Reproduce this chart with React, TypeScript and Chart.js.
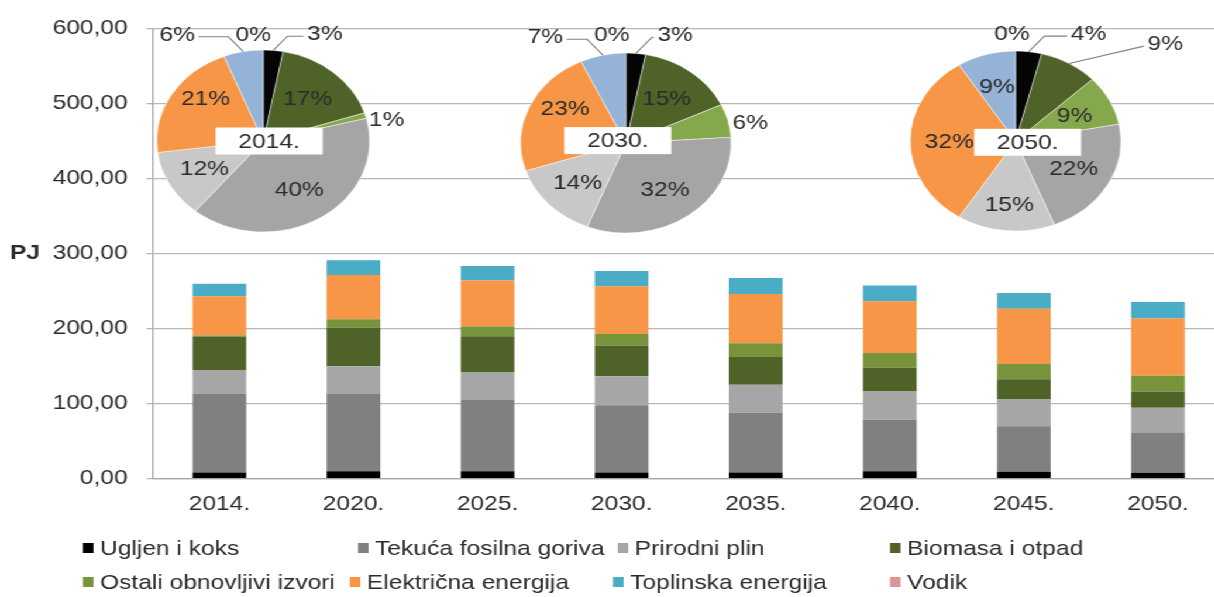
import React, { useEffect, useRef } from 'react';
import { Chart, registerables } from 'chart.js';

Chart.register(...registerables);

// ---------- data ----------
const categories = ['2014.', '2020.', '2025.', '2030.', '2035.', '2040.', '2045.', '2050.'];

const seriesNames = [
  'Ugljen i koks',
  'Tekuća fosilna goriva',
  'Prirodni plin',
  'Biomasa i otpad',
  'Ostali obnovljivi izvori',
  'Električna energija',
  'Toplinska energija',
  'Vodik',
];

const ugljenIKoks = [8.4, 10, 10, 8.4, 8.4, 10, 9.2, 7.9];
const tekucaFosilnaGoriva = [104.5, 102.9, 95.5, 89.6, 79.6, 68.7, 60.8, 53];
const prirodniPlin = [32, 37.1, 36.2, 38.5, 37.2, 37.7, 35.5, 33.6];
const biomasaIOtpad = [44.5, 51.7, 48.3, 41.2, 37.1, 31.6, 27, 21.9];
const ostaliObnovljivi = [1.5, 10.9, 13, 15.3, 18.4, 19.6, 20.3, 21];
const elektricnaEnergija = [52.3, 59.1, 61.3, 63.4, 65.6, 69.1, 73.8, 76.1];
const toplinskaEnergija = [16.6, 19.6, 19.2, 20.6, 21.4, 21, 21, 21.9];
const vodik = [0, 0, 0, 0, 0, 0, 0, 0];

const yTickValues = [0, 100, 200, 300, 400, 500, 600];
const yAxisTitle = 'PJ';

// pies (clockwise from 12 o'clock)
const pieTitles = ['2014.', '2030.', '2050.'];
const pieSliceNames = [
  'Ugljen i koks',
  'Biomasa i otpad',
  'Ostali obnovljivi izvori',
  'Tekuća fosilna goriva',
  'Prirodni plin',
  'Električna energija',
  'Toplinska energija',
  'Vodik',
];
const pieShares2014 = [3, 17, 1, 40, 12, 21, 6, 0];
const pieShares2030 = [3, 15, 6, 32, 14, 23, 7, 0];
const pieShares2050 = [4, 9, 9, 22, 15, 32, 9, 0];
const pieShares = [pieShares2014, pieShares2030, pieShares2050];

// ---------- styles / layout ----------
const SX = 1.17; // horizontal stretch of the whole picture
const CW = 1050;
const CH = 597;
const FONT = '"Liberation Sans", Arial, Helvetica, sans-serif';
const TEXT = '#2b2b2b';

const barColors = ['#000000', '#808080', '#a6a6a6', '#4f6228', '#77933c', '#f79646', '#4bacc6', '#d99694'];
const pieColors = ['#050505', '#4f6228', '#86a84c', '#a5a5a5', '#c8c8c8', '#f79646', '#95b3d7', '#d99694'];

const legendSlots = [
  { x: 70.9, y: 548 },
  { x: 306, y: 548 },
  { x: 528, y: 548 },
  { x: 760.7, y: 548 },
  { x: 70.9, y: 582 },
  { x: 299, y: 582 },
  { x: 524, y: 582 },
  { x: 760.7, y: 582 },
];

const PW = 340;
const PH = 270;

type LabelCfg = { out?: [number, number]; leader?: 'elbow' | 'straight'; nudge?: [number, number]; frac?: number };
type PieLayout = { cx: number; cy: number; r: number; box: [number, number]; labels: LabelCfg[] };

const pieLayouts: PieLayout[] = [
  {
    cx: 225.0, cy: 140.5, r: 91, box: [5, 0],
    labels: [
      { out: [52.7, -107.8], leader: 'elbow' },
      {},
      { out: [105.5, -22.2] },
      {},
      {},
      { nudge: [0, -14] },
      { out: [-73.5, -107.2], leader: 'elbow' },
      { out: [-8.5, -107.2] },
    ],
  },
  {
    cx: 534.8, cy: 142.7, r: 90, box: [-7, -2.4],
    labels: [
      { out: [42.1, -108.7], leader: 'elbow' },
      {},
      { out: [106.2, -21] },
      {},
      {},
      { nudge: [0, -12] },
      { out: [-68.9, -106.7], leader: 'elbow' },
      { out: [-12, -108.7] },
    ],
  },
  {
    cx: 867.8, cy: 141.2, r: 90, box: [10.4, 1.3],
    labels: [
      { out: [62.4, -107.9], leader: 'elbow' },
      { out: [127.9, -97.9], leader: 'straight' },
      {},
      {},
      { nudge: [0, 7] },
      {},
      {},
      { out: [-3.1, -107.9] },
    ],
  },
];

const fmtTick = (v: number) => v.toFixed(2).replace('.', ',');

const extrasPlugin = {
  id: 'extras',
  afterDraw(chart: any) {
    const ctx = chart.ctx;
    ctx.save();
    const y = chart.scales.y.getPixelForValue(300);
    ctx.font = `bold 21px ${FONT}`;
    ctx.fillStyle = TEXT;
    ctx.textBaseline = 'middle';
    ctx.textAlign = 'left';
    ctx.fillText(yAxisTitle, 8.5, y);
    ctx.font = `21px ${FONT}`;
    seriesNames.forEach((name, i) => {
      const s = legendSlots[i];
      ctx.fillStyle = barColors[i];
      ctx.fillRect(s.x, s.y - 5, 9, 10);
      ctx.fillStyle = TEXT;
      ctx.fillText(name, s.x + 14.6, s.y + 1);
    });
    ctx.restore();
  },
};

const pieLabelsPlugin = {
  id: 'pieLabels',
  afterDatasetsDraw(chart: any, _args: any, opts: any) {
    const layout: PieLayout = opts.layout;
    const values: number[] = opts.values;
    const title: string = opts.title;
    const meta = chart.getDatasetMeta(0);
    const ctx = chart.ctx;
    ctx.save();
    ctx.font = `21px ${FONT}`;
    ctx.textAlign = 'center';
    ctx.textBaseline = 'middle';
    const first = meta.data[0];
    const pcx = first.x;
    const pcy = first.y;
    // title box
    const bw = 91.5;
    const bh = 27;
    const bx = pcx + layout.box[0];
    const by = pcy + layout.box[1];
    ctx.fillStyle = '#ffffff';
    ctx.fillRect(bx - bw / 2, by - bh / 2, bw, bh);
    ctx.fillStyle = TEXT;
    ctx.fillText(title, bx, by + 1);

    meta.data.forEach((arc: any, i: number) => {
      const { x, y, startAngle, endAngle, outerRadius } = arc.getProps(
        ['x', 'y', 'startAngle', 'endAngle', 'outerRadius'],
        true
      );
      const mid = (startAngle + endAngle) / 2;
      const lab = layout.labels[i] || {};
      const text = `${values[i]}%`;
      let lx: number;
      let ly: number;
      if (lab.out) {
        lx = x + lab.out[0];
        ly = y + lab.out[1];
        if (lab.leader) {
          const ax = x + outerRadius * Math.cos(mid);
          const ay = y + outerRadius * Math.sin(mid);
          const tw = ctx.measureText(text).width;
          const side = lx > ax ? -1 : 1;
          const sx = lx + side * (tw / 2 + 3);
          const sy = ly + 3;
          ctx.strokeStyle = '#808080';
          ctx.lineWidth = 1.1;
          ctx.beginPath();
          ctx.moveTo(sx, sy);
          if (lab.leader === 'elbow') {
            const dir = sx > ax ? 1 : -1;
            const ex = ax + dir * Math.min(Math.abs(sy - ay) / SX, Math.abs(sx - ax));
            ctx.lineTo(ex, sy);
          }
          ctx.lineTo(ax, ay);
          ctx.stroke();
        }
      } else {
        const f = lab.frac ?? 0.63;
        lx = x + outerRadius * f * Math.cos(mid) + (lab.nudge ? lab.nudge[0] : 0);
        ly = y + outerRadius * f * Math.sin(mid) + (lab.nudge ? lab.nudge[1] : 0);
      }
      ctx.fillStyle = TEXT;
      ctx.fillText(text, lx, ly + 1);
    });
    ctx.restore();
  },
};

export default function App() {
  const barRef = useRef<HTMLCanvasElement | null>(null);
  const pieRefs = useRef<(HTMLCanvasElement | null)[]>([]);

  useEffect(() => {
    const charts: Chart[] = [];
    const seriesData = [
      ugljenIKoks,
      tekucaFosilnaGoriva,
      prirodniPlin,
      biomasaIOtpad,
      ostaliObnovljivi,
      elektricnaEnergija,
      toplinskaEnergija,
      vodik,
    ];
    if (barRef.current) {
      charts.push(
        new Chart(barRef.current, {
          type: 'bar',
          data: {
            labels: categories,
            datasets: seriesData.map((d, i) => ({
              label: seriesNames[i],
              data: d,
              backgroundColor: barColors[i],
              borderWidth: 0,
              barPercentage: 0.4,
              categoryPercentage: 1,
            })),
          },
          options: {
            responsive: false,
            animation: false,
            devicePixelRatio: 1,
            events: [],
            layout: { padding: { left: 29, right: 3, top: 21, bottom: 67.7 } },
            plugins: { legend: { display: false }, tooltip: { enabled: false } },
            scales: {
              x: {
                stacked: true,
                grid: { display: false, drawTicks: false },
                border: { color: '#a6a6a6', width: 1.3 },
                ticks: { font: { family: FONT, size: 21 }, color: TEXT, padding: 12.7 },
              },
              y: {
                stacked: true,
                min: 0,
                max: 600,
                afterBuildTicks: (scale: any) => {
                  scale.ticks = yTickValues.map((v) => ({ value: v }));
                },
                grid: { color: '#b8b8b8', lineWidth: 1.3, tickLength: 5 },
                border: { color: '#a6a6a6', width: 1.3 },
                ticks: {
                  font: { family: FONT, size: 21 },
                  color: TEXT,
                  padding: 16,
                  callback: (v: any) => fmtTick(Number(v)),
                },
              },
            },
          },
          plugins: [extrasPlugin],
        })
      );
    }
    pieLayouts.forEach((lay, k) => {
      const cv = pieRefs.current[k];
      if (!cv) return;
      charts.push(
        new Chart(cv, {
          type: 'pie',
          data: {
            labels: pieSliceNames,
            datasets: [
              {
                data: pieShares[k],
                backgroundColor: pieColors,
                borderWidth: 0.8,
                borderColor: 'rgba(255,255,255,0.6)',
                radius: lay.r,
                hoverOffset: 0,
              } as any,
            ],
          },
          options: {
            responsive: false,
            animation: false,
            devicePixelRatio: 1,
            events: [],
            layout: { padding: 0 },
            plugins: {
              legend: { display: false },
              tooltip: { enabled: false },
              pieLabels: { layout: lay, values: pieShares[k], title: pieTitles[k] },
            } as any,
          },
          plugins: [pieLabelsPlugin],
        })
      );
    });
    return () => {
      charts.forEach((c) => c.destroy());
    };
  }, []);

  return (
    <div
      style={{
        position: 'absolute',
        left: 0,
        top: 0,
        width: 1214,
        height: 597,
        overflow: 'hidden',
        background: '#ffffff',
      }}
    >
      <div
        style={{
          position: 'absolute',
          left: 0,
          top: 0,
          width: CW,
          height: CH,
          transform: `scaleX(${SX})`,
          transformOrigin: '0 0',
        }}
      >
        <canvas
          ref={barRef}
          width={CW}
          height={CH}
          style={{ position: 'absolute', left: 0, top: 0, width: CW, height: CH }}
        />
        {pieLayouts.map((lay, k) => (
          <canvas
            key={k}
            ref={(el) => {
              pieRefs.current[k] = el;
            }}
            width={PW}
            height={PH}
            style={{
              position: 'absolute',
              left: lay.cx - PW / 2,
              top: lay.cy - PH / 2,
              width: PW,
              height: PH,
            }}
          />
        ))}
      </div>
    </div>
  );
}
